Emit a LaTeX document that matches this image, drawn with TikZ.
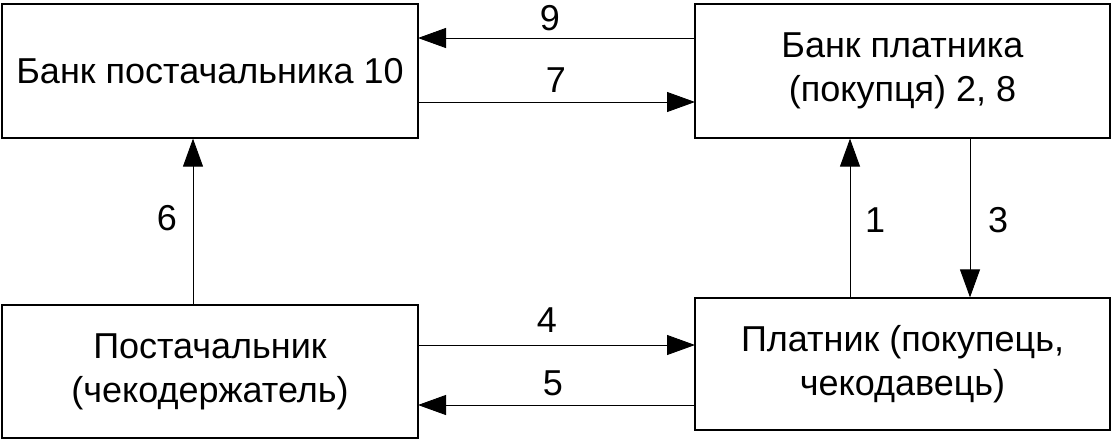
\documentclass[tikz,border=0pt]{standalone}
\usepackage{fontspec}
\setmainfont{Liberation Sans}
\usetikzlibrary{arrows.meta}
\begin{document}
\begin{tikzpicture}[x=1pt,y=-1pt,
  box/.style={draw,line width=1.2pt,inner sep=0pt,align=center,font=\fontsize{36}{44}\selectfont},
  arr/.style={line width=0.9pt,-{Triangle[length=28pt,width=20pt]}},
  lab/.style={font=\fontsize{36}{44}\selectfont}]
\useasboundingbox (0,0) rectangle (1113,440);
\node[box,minimum width=416pt,minimum height=134pt] (bs) at (210,71) {Банк постачальника 10};
\node[box,minimum width=415pt,minimum height=134pt] (bp) at (902.5,71) {Банк платника\\(покупця) 2, 8};
\node[box,minimum width=416pt,minimum height=133pt] (ps) at (210,371.5) {Постачальник\\(чекодержатель)};
\node[box,minimum width=415pt,minimum height=132pt] (pl) at (902.5,364) {Платник (покупець,\\чекодавець)};
\coordinate (a9s) at (695,38); \coordinate (a9e) at (418,38);
\draw[arr] (a9s) -- (a9e);
\coordinate (a7s) at (418,102); \coordinate (a7e) at (695,102);
\draw[arr] (a7s) -- (a7e);
\draw[arr] (ps.north -| 193,0) -- (bs.south -| 193,0);
\draw[arr] (pl.north -| 850,0) -- (bp.south -| 850,0);
\draw[arr] (bp.south -| 970,0) -- (pl.north -| 970,0);
\coordinate (a4s) at (418,345); \coordinate (a4e) at (695,345);
\draw[arr] (a4s) -- (a4e);
\coordinate (a5s) at (695,405); \coordinate (a5e) at (418,405);
\draw[arr] (a5s) -- (a5e);
\node[lab] (l9) at (550,18) {9};
\node[lab] (l7) at (556,80) {7};
\node[lab] (l6) at (167,218) {6};
\node[lab] (l1) at (875,220) {1};
\node[lab] (l3) at (998,220) {3};
\node[lab] (l4) at (547,320) {4};
\node[lab] (l5) at (553,383) {5};
\end{tikzpicture}
\end{document}
